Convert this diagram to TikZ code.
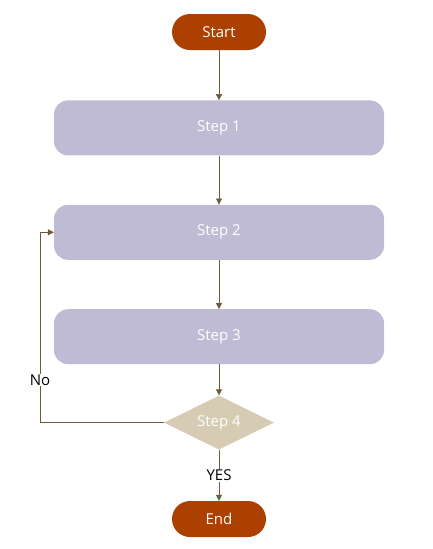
\documentclass[tikz,border=0pt]{standalone}
\usepackage{fontspec}
\setmainfont{Open Sans}
\usetikzlibrary{arrows.meta,positioning,shapes.geometric}
\definecolor{termfill}{HTML}{AB4000}
\definecolor{stepfill}{HTML}{BFBBD4}
\definecolor{decfill}{HTML}{D6CCB4}
\definecolor{linkcol}{HTML}{6E5B3B}

\begin{document}
\begin{tikzpicture}[x=1pt,y=-1pt,node distance=49pt, every node/.style={align=center,font=\fontsize{15}{17}\selectfont}]
\useasboundingbox (0,0) rectangle (432,549);
\tikzset{
  term/.style={fill=termfill,text=white,rounded corners=18pt,minimum width=94pt,minimum height=36pt},
  stepbox/.style={fill=stepfill,text=white,rounded corners=14pt,minimum width=330pt,minimum height=55pt},
  decide/.style={diamond,aspect=2,fill=decfill,text=white,inner sep=0pt,minimum width=110pt,minimum height=54pt},
  link/.style={draw=linkcol,-{Triangle[length=6pt,width=6pt]}}
}
\node[term] (start) at (219,32) {Start};
\node[stepbox,below=50pt of start] (s1) {Step 1};
\node[stepbox,below=of s1] (s2) {Step 2};
\node[stepbox,below=of s2] (s3) {Step 3};
\node[decide,below=31pt of s3] (s4) {Step 4};
\node[term,below=51pt of s4] (end) {End};
\coordinate (bend) at (40,0);

\draw[link] (start) -- (s1);
\draw[link] (s1) -- (s2);
\draw[link] (s2) -- (s3);
\draw[link] (s3) -- (s4);
\draw[link] (s4) -- node[fill=white,inner sep=1pt]{YES} (end);
\draw[link] (s4.west) -| (bend |- s2.west) -- (s2.west);
\node[fill=white,inner sep=1pt] (no) at (40,380) {No};
\end{tikzpicture}
\end{document}
